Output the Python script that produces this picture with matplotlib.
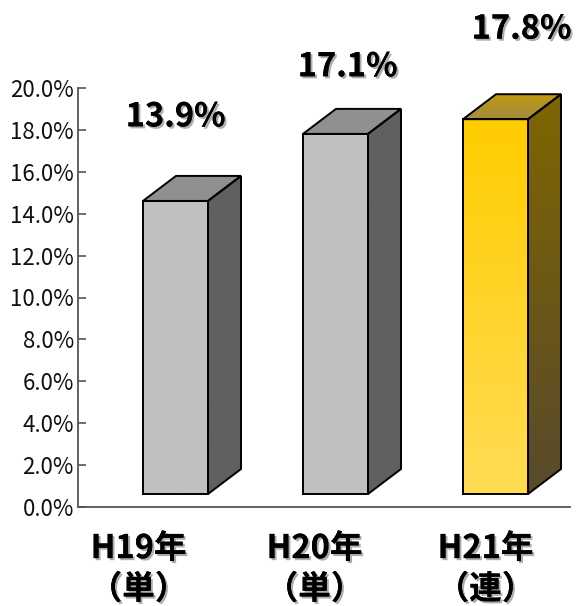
import matplotlib
matplotlib.use('Agg')
import matplotlib.pyplot as plt
import matplotlib.patheffects as pe
import numpy as np
from matplotlib.colors import LinearSegmentedColormap
from matplotlib.patches import Polygon

W, H = 577, 606

values = [13.9, 17.1, 17.8]
value_labels = ['13.9%', '17.1%', '17.8%']
categories = ['H19年\n（単）', 'H20年\n（単）', 'H21年\n（連）']
y_ticks = [0, 2, 4, 6, 8, 10, 12, 14, 16, 18, 20]
y_tick_labels = ['0.0%', '2.0%', '4.0%', '6.0%', '8.0%', '10.0%',
                 '12.0%', '14.0%', '16.0%', '18.0%', '20.0%']

# 3d box look, in axis units
BAR_W = 65 / 160
DEPTH_X = 33 / 160
DEPTH_Y = 25 / 20.95
FLOOR = 0.62
TOP_EXTRA = 0.09

JP = ['Noto Sans CJK JP', 'DejaVu Sans']


def gradient_poly(ax, pts, top_col, bottom_col):
    # vertical gradient clipped to a polygon, with black outline
    pts = np.array(pts)
    cmap = LinearSegmentedColormap.from_list('g', [top_col, bottom_col])
    extent = [pts[:, 0].min(), pts[:, 0].max(), pts[:, 1].min(), pts[:, 1].max()]
    img = ax.imshow(np.linspace(0, 1, 256).reshape(-1, 1), cmap=cmap, aspect='auto',
                    extent=extent, origin='upper', zorder=2)
    edge = Polygon(pts, closed=True, facecolor='none', edgecolor='black', lw=1.4,
                   joinstyle='miter', zorder=3)
    ax.add_patch(edge)
    img.set_clip_path(edge)


def draw_box(ax, x, v, colors):
    x0 = x - BAR_W / 2
    x1 = x + BAR_W / 2
    y0 = FLOOR
    y1 = FLOOR + v + TOP_EXTRA
    front, side, top = colors
    gradient_poly(ax, [(x1, y0), (x1 + DEPTH_X, y0 + DEPTH_Y), (x1 + DEPTH_X, y1 + DEPTH_Y), (x1, y1)], *side)
    gradient_poly(ax, [(x0, y1), (x1, y1), (x1 + DEPTH_X, y1 + DEPTH_Y), (x0 + DEPTH_X, y1 + DEPTH_Y)], *top)
    gradient_poly(ax, [(x0, y0), (x1, y0), (x1, y1), (x0, y1)], *front)


def main():
    fig = plt.figure(figsize=(W / 100, H / 100), dpi=100)
    ax = fig.add_axes([78 / W, 1 - 507 / H, (570 - 78) / W, (507 - 88) / H])

    gray = (('#c0c0c0', '#c0c0c0'), ('#606060', '#606060'), ('#909090', '#909090'))
    gold = (('#ffcc00', '#ffdc55'), ('#806600', '#584a2c'), ('#bf9a10', '#a58c3e'))
    box_colors = [gray, gray, gold]

    for i, v in enumerate(values):
        draw_box(ax, i, v, box_colors[i])

    ax.set_xlim((78 - 175.5) / 160, (570 - 175.5) / 160)
    ax.set_ylim(0, 20)

    ax.spines['top'].set_visible(False)
    ax.spines['right'].set_visible(False)
    ax.spines['left'].set_color('#555555')
    ax.spines['bottom'].set_color('#555555')
    ax.spines['left'].set_linewidth(1.3)
    ax.spines['bottom'].set_linewidth(1.3)

    ax.set_xticks([])
    ax.set_yticks(y_ticks)
    ax.set_yticklabels(y_tick_labels, family=JP, fontsize=16, color='#111111')
    ax.tick_params(axis='y', direction='in', length=6, width=1.2, color='#555555', pad=3)

    shadow = [pe.withSimplePatchShadow(offset=(1.5, -1.5), shadow_rgbFace='#999999', alpha=0.8), pe.Normal()]

    label_offsets = [(0, 86), (12, 69), (26, 92)]
    for i, v in enumerate(values):
        ax.annotate(value_labels[i], xy=(i, FLOOR + v), xytext=label_offsets[i],
                    textcoords='offset pixels', ha='center', va='center',
                    family=JP, fontsize=23.5, fontweight='bold', path_effects=shadow,
                    annotation_clip=False)

    cat_x = [-37, -21, -10]
    for i, c in enumerate(categories):
        ax.annotate(c, xy=(i, 0), xytext=(cat_x[i], -62), textcoords='offset pixels',
                    ha='center', va='center', multialignment='center', linespacing=1.3,
                    family=JP, fontsize=23.5, fontweight='bold', path_effects=shadow,
                    annotation_clip=False)

    fig.savefig('out.png', dpi=100)


if __name__ == '__main__':
    main()
